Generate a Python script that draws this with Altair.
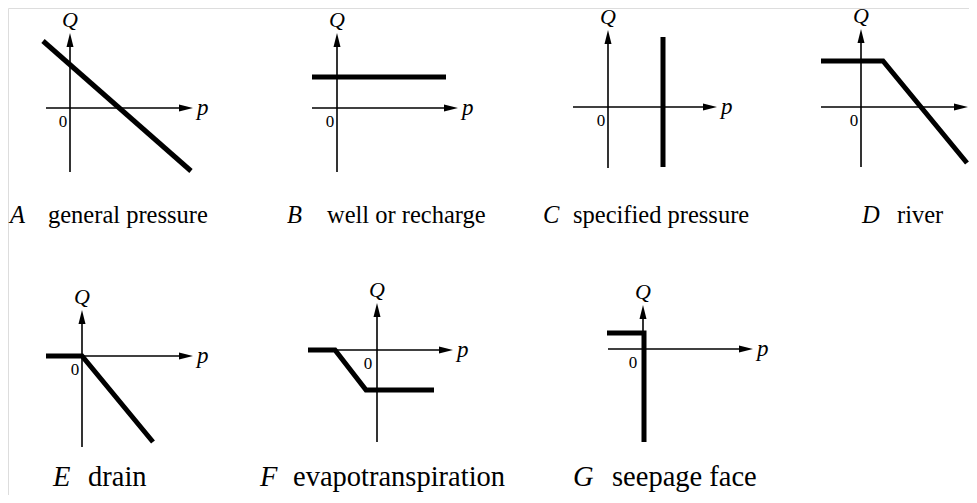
import altair as alt
import pandas as pd

# ---- panel content (local units: p to the right, Q up; origin at the axes crossing) ----
keys = ["A", "B", "C", "D", "E", "F", "G"]
captions = ["general pressure", "well or recharge", "specified pressure", "river",
            "drain", "evapotranspiration", "seepage face"]
curve_p = [[-27, 121], [-25, 109], [55, 55], [-40, 22, 106],
           [-36, 0, 71], [-69, -42, -11, 57], [-36, 1, 1]]
curve_q = [[67, -63], [31, 31], [70, -60], [46, 46, -56],
           [0, 0, -86], [0, 0, -40, -40], [16, 16, -93]]

# ---- layout (page pixels) ----
origin_x = [70, 337, 608, 861, 82, 377, 643]
origin_y = [108, 108, 107, 107, 356, 350, 349]
axis_left = [-24, -25, -35, -40, -36, -69, -35]
axis_right = [123, 121, 109, 107, 111, 76, 110]
axis_bottom = [-64, -64, -61, -60, -91, -92, -93]
axis_top = [75, 75, 77, 78, 46, 47, 44]
zero_dx = [-7, -7, -7, -7, -7, -9, -10]
letter_x = [10, 287, 543, 862, 53, 260, 573]
caption_x = [48, 327, 573, 897, 88, 293, 612]
caption_y = [223, 223, 223, 223, 486, 486, 486]
caption_size = [24.5, 24.5, 24.5, 24.5, 28.5, 28.5, 28.5]

SERIF = "'Liberation Serif', 'Times New Roman', Times, serif"

thin_rows, thick_rows, arrow_rows, ital_rows, roman_rows = [], [], [], [], []
for i, k in enumerate(keys):
    ox, oy = origin_x[i], origin_y[i]
    thin_rows += [
        {"g": f"{k}x", "o": 0, "x": ox + axis_left[i], "y": oy},
        {"g": f"{k}x", "o": 1, "x": ox + axis_right[i] - 10, "y": oy},
        {"g": f"{k}y", "o": 0, "x": ox, "y": oy - axis_bottom[i]},
        {"g": f"{k}y", "o": 1, "x": ox, "y": oy - axis_top[i] + 10},
    ]
    arrow_rows += [
        {"x": ox + axis_right[i] - 7, "y": oy, "dir": "r"},
        {"x": ox, "y": oy - axis_top[i] + 7, "dir": "u"},
    ]
    for j, (p, q) in enumerate(zip(curve_p[i], curve_q[i])):
        thick_rows.append({"g": k, "o": j, "x": ox + p, "y": oy - q})
    ital_rows += [
        {"x": ox, "y": oy - axis_top[i] - 6, "t": "Q", "s": 22, "a": "center"},
        {"x": ox + axis_right[i] + 4, "y": oy + 7, "t": "p", "s": 23, "a": "left"},
        {"x": letter_x[i], "y": caption_y[i], "t": k, "s": caption_size[i], "a": "left"},
    ]
    roman_rows += [
        {"x": ox + zero_dx[i], "y": oy + 19, "t": "0", "s": 17, "a": "center"},
        {"x": caption_x[i], "y": caption_y[i], "t": captions[i], "s": caption_size[i], "a": "left"},
    ]

xs = alt.Scale(domain=[8, 969], range=[0, 961])
ys = alt.Scale(domain=[8, 495], range=[0, 487])


def X():
    return alt.X("x:Q", scale=xs, axis=None)


def Y():
    return alt.Y("y:Q", scale=ys, axis=None)


thin = alt.Chart(pd.DataFrame(thin_rows)).mark_line(
    color="black", strokeWidth=1.6, strokeCap="butt").encode(
    x=X(), y=Y(), detail="g:N", order="o:Q")

thick = alt.Chart(pd.DataFrame(thick_rows)).mark_line(
    color="black", strokeWidth=5, strokeCap="butt", strokeJoin="miter").encode(
    x=X(), y=Y(), detail="g:N", order="o:Q")

adf = pd.DataFrame(arrow_rows)
arrow_r = alt.Chart(adf[adf.dir == "r"]).mark_point(
    shape="M1,0L-1,0.5L-1,-0.5Z", size=196, filled=True, color="black", opacity=1).encode(
    x=X(), y=Y())
arrow_u = alt.Chart(adf[adf.dir == "u"]).mark_point(
    shape="M0,-1L0.5,1L-0.5,1Z", size=196, filled=True, color="black", opacity=1).encode(
    x=X(), y=Y())

idf = pd.DataFrame(ital_rows)
rdf = pd.DataFrame(roman_rows)
layers = []
for al in ["left", "center"]:
    sub = idf[idf.a == al]
    layers.append(alt.Chart(sub).mark_text(
        font=SERIF, fontStyle="italic", align=al, baseline="alphabetic",
        color="black").encode(x=X(), y=Y(), text="t:N", size=alt.Size("s:Q", scale=None)))
    sub = rdf[rdf.a == al]
    layers.append(alt.Chart(sub).mark_text(
        font=SERIF, align=al, baseline="alphabetic",
        color="black").encode(x=X(), y=Y(), text="t:N", size=alt.Size("s:Q", scale=None)))

chart = alt.layer(thin, thick, arrow_r, arrow_u, *layers).properties(
    width=961, height=487, padding=0, autosize=alt.AutoSizeParams(type="none")
).configure_view(stroke=None).configure(background="white")

chart.save("out.html", embed_options={"renderer": "svg", "actions": False})
